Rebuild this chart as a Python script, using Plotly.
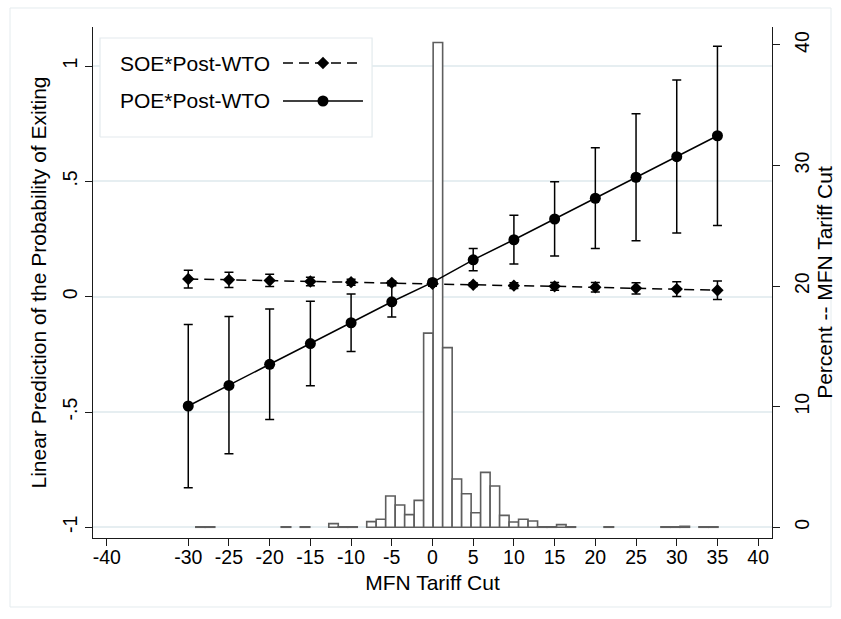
import plotly.graph_objects as go

# ---------------- data ----------------
x_cut = [-30, -25, -20, -15, -10, -5, 0, 5, 10, 15, 20, 25, 30, 35]

soe_pred = [0.077, 0.073, 0.070, 0.066, 0.063, 0.060, 0.056, 0.052, 0.048, 0.045, 0.041, 0.037, 0.033, 0.028]
soe_lo = [0.038, 0.040, 0.044, 0.048, 0.050, 0.052, 0.051, 0.044, 0.036, 0.028, 0.020, 0.012, 0.001, -0.012]
soe_hi = [0.115, 0.106, 0.097, 0.084, 0.076, 0.068, 0.061, 0.060, 0.060, 0.062, 0.062, 0.060, 0.065, 0.068]

poe_pred = [-0.474, -0.385, -0.293, -0.203, -0.113, -0.022, 0.062, 0.160, 0.247, 0.337, 0.427, 0.518, 0.607, 0.698]
poe_lo = [-0.829, -0.681, -0.532, -0.386, -0.238, -0.088, 0.045, 0.113, 0.142, 0.176, 0.209, 0.243, 0.276, 0.309]
poe_hi = [-0.120, -0.086, -0.053, -0.020, 0.012, 0.047, 0.075, 0.209, 0.353, 0.499, 0.646, 0.793, 0.940, 1.086]

# histogram of MFN tariff cut (left bin edge, percent)
hist_left = [-29.07, -27.91, -18.58, -16.24, -12.74, -11.58, -10.41, -8.08, -6.92, -5.75,
             -4.58, -3.42, -2.25, -1.09, 0.08, 1.25, 2.41, 3.58, 4.74, 5.91,
             7.08, 8.24, 9.41, 10.57, 11.74, 12.91, 14.07, 15.24, 16.40, 21.07,
             28.06, 29.23, 30.40, 32.73, 33.90]
hist_pct = [0.04, 0.04, 0.04, 0.04, 0.30, 0.04, 0.04, 0.47, 0.66, 2.59,
            1.85, 1.05, 2.23, 16.1, 40.2, 14.9, 4.0, 2.78, 1.21, 4.55,
            3.42, 0.99, 0.44, 0.66, 0.52, 0.04, 0.04, 0.22, 0.04, 0.04,
            0.04, 0.04, 0.08, 0.04, 0.04]
bin_width = 1.166

x_ticks = [-40, -30, -25, -20, -15, -10, -5, 0, 5, 10, 15, 20, 25, 30, 35, 40]
x_ticktext = ["-40", "-30", "-25", "-20", "-15", "-10", "-5", "0", "5", "10", "15", "20", "25", "30", "35", "40"]
left_ticks = [-1, -0.5, 0, 0.5, 1]
left_ticktext = ["-1", "-.5", "0", ".5", "1"]
right_ticks = [0, 10, 20, 30, 40]
right_ticktext = ["0", "10", "20", "30", "40"]

legend_labels = ["SOE*Post-WTO", "POE*Post-WTO"]

# ---------------- style ----------------
FONT = "Liberation Sans, Arial, Helvetica, sans-serif"
TICK_SIZE = 19.5
TITLE_SIZE = 21
GRID = "#e6eef1"
AXIS = "#1a1a1a"

fig = go.Figure()

# histogram (main y axis, right side)
fig.add_trace(go.Bar(
    x=hist_left, y=hist_pct, width=bin_width, offset=0,
    marker=dict(color="white", line=dict(color="#5e5e5e", width=1.6)),
    xaxis="x", yaxis="y", showlegend=False, hoverinfo="skip",
))

# SOE * Post-WTO
fig.add_trace(go.Scatter(
    x=x_cut, y=soe_pred, mode="lines+markers",
    line=dict(color="black", width=1.5, dash="10px,6px"),
    marker=dict(symbol="diamond", size=9.5, color="black"),
    error_y=dict(type="data", symmetric=False,
                 array=[h - p for h, p in zip(soe_hi, soe_pred)],
                 arrayminus=[p - l for p, l in zip(soe_pred, soe_lo)],
                 color="black", thickness=1.5, width=4.5),
    xaxis="x", yaxis="y2", showlegend=False,
))

# POE * Post-WTO
fig.add_trace(go.Scatter(
    x=x_cut, y=poe_pred, mode="lines+markers",
    line=dict(color="black", width=1.5),
    marker=dict(symbol="circle", size=11, color="black"),
    error_y=dict(type="data", symmetric=False,
                 array=[h - p for h, p in zip(poe_hi, poe_pred)],
                 arrayminus=[p - l for p, l in zip(poe_pred, poe_lo)],
                 color="black", thickness=1.5, width=4.5),
    xaxis="x", yaxis="y2", showlegend=False,
))

# ---------------- custom legend (text left, key right) ----------------
box_x = [0.0103, 0.411, 0.411, 0.0103, 0.0103]
box_y = [0.7847, 0.7847, 0.9785, 0.9785, 0.7847]
fig.add_trace(go.Scatter(
    x=box_x, y=box_y, mode="lines", fill="toself", fillcolor="white",
    line=dict(color="#e3eaed", width=1.2),
    xaxis="x3", yaxis="y3", showlegend=False, hoverinfo="skip",
))
key_x = [0.2798, 0.3976]
key_mid = 0.3387
key_y = [0.9295, 0.8552]
fig.add_trace(go.Scatter(
    x=key_x, y=[key_y[0]] * 2, mode="lines",
    line=dict(color="black", width=1.5, dash="10px,6px"),
    xaxis="x3", yaxis="y3", showlegend=False, hoverinfo="skip",
))
fig.add_trace(go.Scatter(
    x=[key_mid], y=[key_y[0]], mode="markers",
    marker=dict(symbol="diamond", size=9.5, color="black"),
    xaxis="x3", yaxis="y3", showlegend=False, hoverinfo="skip",
))
fig.add_trace(go.Scatter(
    x=key_x, y=[key_y[1]] * 2, mode="lines",
    line=dict(color="black", width=1.5),
    xaxis="x3", yaxis="y3", showlegend=False, hoverinfo="skip",
))
fig.add_trace(go.Scatter(
    x=[key_mid], y=[key_y[1]], mode="markers",
    marker=dict(symbol="circle", size=11, color="black"),
    xaxis="x3", yaxis="y3", showlegend=False, hoverinfo="skip",
))

annotations = []
for lab, yy in zip(legend_labels, key_y):
    annotations.append(dict(text=lab, x=0.0368, y=yy, xref="paper", yref="paper",
                            xanchor="left", yanchor="middle", showarrow=False,
                            font=dict(family=FONT, size=TITLE_SIZE, color="black")))

axis_common = dict(showline=True, linecolor=AXIS, linewidth=1, ticks="outside",
                   ticklen=7, tickwidth=1, tickcolor=AXIS, zeroline=False,
                   automargin=False,
                   tickfont=dict(family=FONT, size=TICK_SIZE, color="black"))

fig.update_layout(
    width=841, height=619,
    margin=dict(l=93, r=69, t=27, b=81),
    paper_bgcolor="white", plot_bgcolor="white",
    font=dict(family=FONT, color="black"),
    showlegend=False,
    barmode="overlay",
    xaxis=dict(range=[-41.7, 41.7], tickvals=x_ticks, ticktext=x_ticktext, showgrid=False,
               ticklabelstandoff=-5,
               title=dict(text="MFN Tariff Cut", font=dict(family=FONT, size=TITLE_SIZE),
                          standoff=7),
               **axis_common),
    yaxis=dict(range=[-0.89, 41.49], side="right", tickvals=right_ticks,
               ticktext=right_ticktext, tickangle=-90, showgrid=False,
               ticklabelstandoff=6,
               title=dict(text="Percent -- MFN Tariff Cut", font=dict(family=FONT, size=TITLE_SIZE),
                          standoff=2),
               **axis_common),
    yaxis2=dict(range=[-1.0464, 1.1696], side="left", overlaying="y", anchor="x",
                tickvals=left_ticks, ticktext=left_ticktext, tickangle=-90,
                showgrid=True, gridcolor=GRID, gridwidth=1.5,
                title=dict(text="Linear Prediction of the Probability of Exiting",
                           font=dict(family=FONT, size=TITLE_SIZE), standoff=6),
                **axis_common),
    xaxis3=dict(range=[0, 1], overlaying="x", anchor="y3", visible=False, fixedrange=True),
    yaxis3=dict(range=[0, 1], overlaying="y", anchor="x3", visible=False, fixedrange=True),
    annotations=annotations,
    shapes=[dict(type="rect", xref="paper", yref="paper",
                 x0=-0.1222, x1=1.0869, y0=-0.135, y1=1.0372,
                 line=dict(color="#e4ebee", width=1), layer="below")],
)

fig.write_html("out.html")
